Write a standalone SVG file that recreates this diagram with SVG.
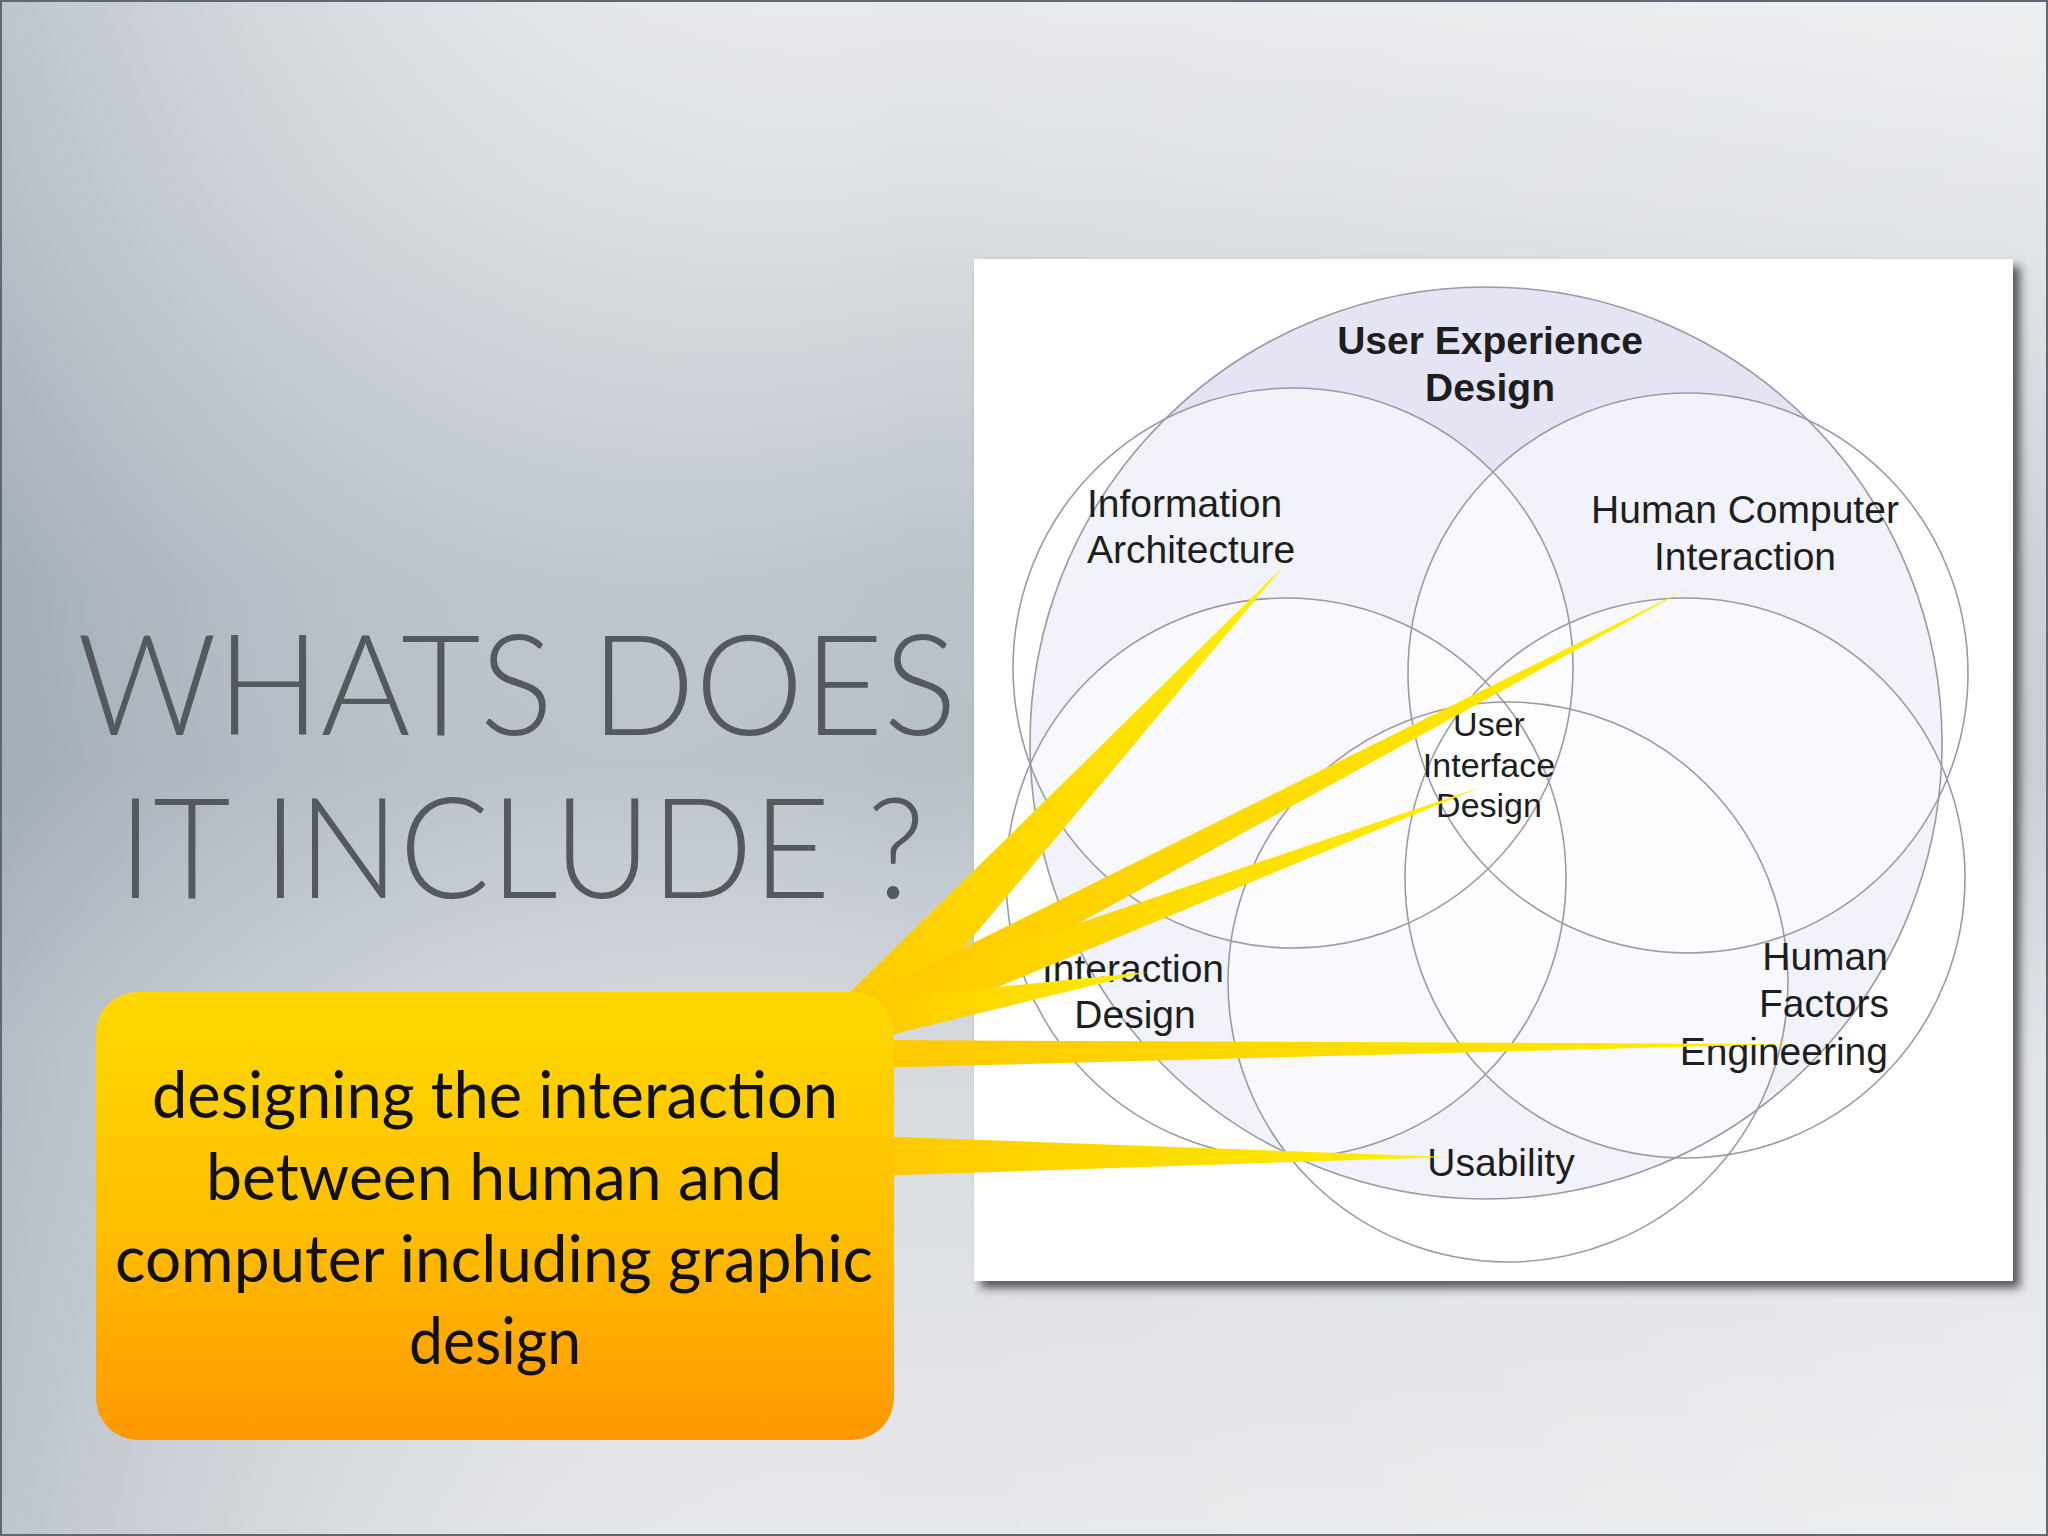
<svg xmlns="http://www.w3.org/2000/svg" width="2048" height="1536" viewBox="0 0 2048 1536">
  <defs>
    <linearGradient id="bgV" x1="0" y1="0" x2="0" y2="1">
      <stop offset="0" stop-color="#e7e9ec"/>
      <stop offset="0.12" stop-color="#dde0e4"/>
      <stop offset="0.38" stop-color="#bac2ca"/>
      <stop offset="0.5" stop-color="#b7bfc7"/>
      <stop offset="0.68" stop-color="#d6dadf"/>
      <stop offset="1" stop-color="#e7e8eb"/>
    </linearGradient>
    <linearGradient id="bgH" x1="0" y1="0" x2="1" y2="0">
      <stop offset="0" stop-color="#8a97a4" stop-opacity="0.45"/>
      <stop offset="0.45" stop-color="#ffffff" stop-opacity="0"/>
      <stop offset="1" stop-color="#ffffff" stop-opacity="0.25"/>
    </linearGradient>
    <linearGradient id="boxGrad" x1="0" y1="0" x2="0" y2="1">
      <stop offset="0" stop-color="#ffd900"/>
      <stop offset="0.5" stop-color="#ffc000"/>
      <stop offset="1" stop-color="#ff9800"/>
    </linearGradient>
    <linearGradient id="beamGrad" x1="0" y1="0" x2="1" y2="0">
      <stop offset="0" stop-color="#ffc800"/>
      <stop offset="1" stop-color="#fff000"/>
    </linearGradient>
    <linearGradient id="beamGradUp" x1="0" y1="1" x2="1" y2="0">
      <stop offset="0" stop-color="#ffc800"/>
      <stop offset="1" stop-color="#fff000"/>
    </linearGradient>
    <filter id="shadow" x="-5%" y="-5%" width="115%" height="115%">
      <feDropShadow dx="7" dy="7" stdDeviation="5" flood-color="#2a2a2a" flood-opacity="0.75"/>
    </filter>
    <style>
      .ring { stroke: #9a9aa4; stroke-width: 1.6; }
      .inner { fill: #ffffff; fill-opacity: 0.5; }
      .lbl { font-family: "Liberation Sans", Arial, sans-serif; font-size: 39px; fill: #1e1e1e; }
      .lblsm { font-family: "Liberation Sans", Arial, sans-serif; font-size: 34px; fill: #1e1e1e; }
      .title { font-family: Lato, "Open Sans", sans-serif; font-weight: 300; font-size: 140px; fill: #55595d; }
      .call { font-family: Lato, "Open Sans", sans-serif; font-weight: 400; font-size: 66px; fill: #111111; }
      .beam { fill: url(#beamGrad); }
    </style>
  </defs>

  <!-- background -->
  <rect x="0" y="0" width="2048" height="1536" fill="url(#bgV)"/>
  <rect x="0" y="0" width="2048" height="1536" fill="url(#bgH)"/>
  <rect x="1" y="1" width="2046" height="1534" fill="none" stroke="#5e6872" stroke-width="2"/>

  <!-- picture panel -->
  <g id="panel">
    <rect x="974" y="259" width="1039" height="1022" fill="#ffffff" filter="url(#shadow)"/>
  </g>

  <!-- venn circles -->
  <g id="circle-ux"><circle cx="1486" cy="743" r="456" fill="#e4e4f5"/></g>
  <g id="circle-ia"><circle cx="1293" cy="668" r="280" class="inner"/></g>
  <g id="circle-hci"><circle cx="1688" cy="673" r="280" class="inner"/></g>
  <g id="circle-id"><circle cx="1286" cy="878" r="280" class="inner"/></g>
  <g id="circle-hfe"><circle cx="1685" cy="878" r="280" class="inner"/></g>
  <g id="circle-us"><circle cx="1508" cy="982" r="280" class="inner"/></g>
  <g id="outlines" fill="none">
    <circle cx="1486" cy="743" r="456" class="ring"/>
    <circle cx="1293" cy="668" r="280" class="ring"/>
    <circle cx="1688" cy="673" r="280" class="ring"/>
    <circle cx="1286" cy="878" r="280" class="ring"/>
    <circle cx="1685" cy="878" r="280" class="ring"/>
    <circle cx="1508" cy="982" r="280" class="ring"/>
  </g>

  <!-- venn labels -->
  <g id="label-ux">
    <text class="lbl" x="1490" y="354" text-anchor="middle" font-weight="bold">User Experience</text>
    <text class="lbl" x="1490" y="401" text-anchor="middle" font-weight="bold">Design</text>
  </g>
  <g id="label-ia">
    <text class="lbl" x="1087" y="517">Information</text>
    <text class="lbl" x="1087" y="563">Architecture</text>
  </g>
  <g id="label-hci">
    <text class="lbl" x="1745" y="523" text-anchor="middle">Human Computer</text>
    <text class="lbl" x="1745" y="570" text-anchor="middle">Interaction</text>
  </g>
  <g id="label-ui">
    <text class="lblsm" x="1489" y="736" text-anchor="middle">User</text>
    <text class="lblsm" x="1489" y="777" text-anchor="middle">Interface</text>
    <text class="lblsm" x="1489" y="817" text-anchor="middle">Design</text>
  </g>
  <g id="label-id">
    <text class="lbl" x="1133" y="982" text-anchor="middle">Interaction</text>
    <text class="lbl" x="1135" y="1028" text-anchor="middle">Design</text>
  </g>
  <g id="label-hfe">
    <text class="lbl" x="1888" y="970" text-anchor="end">Human</text>
    <text class="lbl" x="1889" y="1017" text-anchor="end">Factors</text>
    <text class="lbl" x="1888" y="1065" text-anchor="end">Engineering</text>
  </g>
  <g id="label-us">
    <text class="lbl" x="1501" y="1176" text-anchor="middle">Usability</text>
  </g>

  <!-- connectors: yellow beams -->
  <g id="connectors">
    <polygon fill="url(#beamGradUp)" points="1283,567 836,1006 878,1050"/>
    <polygon class="beam" points="1687,589 870,994 870,1038"/>
    <polygon class="beam" points="1481,787 870,994 870,1040"/>
    <polygon class="beam" points="1147,972 870,1000 870,1040"/>
    <polygon class="beam" points="1793,1044 870,1040 870,1068"/>
    <polygon class="beam" points="1449,1157 870,1136 870,1176"/>
  </g>

  <!-- callout box -->
  <g id="callout">
    <rect x="96" y="992" width="798" height="448" rx="42" ry="42" fill="url(#boxGrad)"/>
    <text class="call" x="495" y="1118" text-anchor="middle" textLength="686" lengthAdjust="spacingAndGlyphs">designing the interaction</text>
    <text class="call" x="494" y="1200" text-anchor="middle" textLength="576" lengthAdjust="spacingAndGlyphs">between human and</text>
    <text class="call" x="494" y="1282" text-anchor="middle" textLength="758" lengthAdjust="spacingAndGlyphs">computer including graphic</text>
    <text class="call" x="495" y="1364" text-anchor="middle" textLength="172" lengthAdjust="spacingAndGlyphs">design</text>
  </g>

  <!-- title -->
  <g id="title">
    <text class="title" x="77" y="735" textLength="880" lengthAdjust="spacingAndGlyphs">WHATS DOES</text>
    <text class="title" x="118" y="898" textLength="807" lengthAdjust="spacingAndGlyphs">IT INCLUDE ?</text>
  </g>
</svg>
